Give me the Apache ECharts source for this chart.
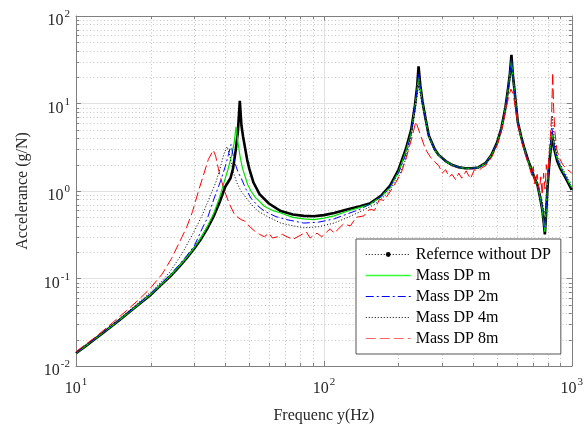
<!DOCTYPE html>
<html><head><meta charset="utf-8">
<script src="https://cdn.jsdelivr.net/npm/echarts@6/dist/echarts.min.js"></script>
<style>html,body{margin:0;padding:0;background:#fff}#c{width:586px;height:429px}</style>
</head><body><div id="c"></div>
<script>
// ---- data ----
const seriesNames = ['Refernce without DP', 'Mass DP m', 'Mass DP 2m', 'Mass DP 4m', 'Mass DP 8m'];

const refFreq = [10,11,12,13,14,15,16,18,20,22,24,26,28,30,32,34,36,38,40,42,43,44,45,45.8,46.5,47.2,48,49,50,52,55,60,67,75,83,91,100,110,125,140,153,170,185,200,214,225,233,238,241,245,250,257,265,280,291,310,330,350,372,395,420,450,474,500,520,540,553,563,571,578,587,596,606,625,644,665,685,705,727,745,762,772,779,788,798,810,823,835,850,875,900,930,965,1000];
const refAcc  = [0.014,0.0171,0.0206,0.0245,0.0289,0.0336,0.039,0.051,0.065,0.084,0.106,0.135,0.172,0.22,0.285,0.38,0.52,0.75,1.12,1.4,1.8,2.8,4.8,10.7,5.6,4.2,3.2,2.3,1.8,1.25,0.92,0.72,0.59,0.54,0.52,0.515,0.53,0.56,0.62,0.67,0.72,0.88,1.15,1.75,3.0,5.0,9.5,16,26.5,16,10.5,6.8,4.3,3.0,2.57,2.2,1.98,1.87,1.82,1.82,1.86,2.1,2.57,3.6,5.2,9,14.6,22,36,22,14.6,9.5,6.1,4.2,3.06,2.3,1.82,1.45,1.18,0.85,0.59,0.42,0.32,0.55,1.08,1.9,3.06,4.3,3.0,2.17,1.8,1.53,1.25,1.03];

const mFreq = [10,12,14,16,18,20,22,24,26,28,30,32,34,36,38,39.6,41,42.5,43.5,44.2,45,46,47,48,49.3,51,53,55,57.5,62,67,75,83,91,100,110,125,140,153,170,185,200,214,225,233,238,241,245,250,257,265,280,291,310,330,350,372,395,420,450,474,500,520,540,553,563,571,578,587,596,606,625,644,665,685,705,727,745,762,772,779,788,798,810,823,835,850,875,900,930,965,1000];
const mAcc  = [0.014,0.0207,0.029,0.0392,0.0515,0.066,0.085,0.108,0.138,0.176,0.226,0.295,0.4,0.56,0.85,1.27,1.75,2.6,3.6,5.4,3.6,2.4,1.8,1.5,1.18,0.98,0.84,0.76,0.67,0.6,0.56,0.5,0.48,0.47,0.49,0.52,0.59,0.65,0.7,0.86,1.1,1.65,2.8,4.6,9,14.5,20,14.5,10,6.6,4.2,2.95,2.55,2.18,1.97,1.86,1.81,1.81,1.85,2.08,2.55,3.5,5.1,8.8,14,21,31,21,14,9.2,6,4.1,3.0,2.25,1.8,1.45,1.18,0.86,0.6,0.43,0.34,0.6,1.2,2.1,3.4,4.7,3.2,2.3,1.9,1.6,1.3,1.1];

const m2Freq = [10,12,14,16,18,20,22,24,26,28,30,32.4,34,36.1,38.2,40,41.2,42.2,43,44,45,46.4,48.5,50.8,54,57.5,64,71,83,95,110,125,140,160,180,200,214,225,233,238,241,245,250,257,265,280,291,310,330,350,372,395,420,450,474,500,520,540,553,563,571,578,587,596,606,625,644,665,685,705,727,745,762,772,779,788,798,810,823,832,850,875,900,930,965,1000];
const m2Acc  = [0.0141,0.0208,0.0292,0.0396,0.052,0.067,0.087,0.111,0.142,0.183,0.236,0.38,0.5,0.83,1.27,1.9,2.6,3.4,2.6,2.0,1.65,1.4,1.05,0.83,0.68,0.59,0.51,0.47,0.43,0.44,0.48,0.55,0.62,0.75,1.0,1.6,2.6,4.5,8.8,15,22,15,10,6.5,4.2,2.95,2.55,2.18,1.97,1.86,1.81,1.81,1.85,2.08,2.55,3.5,5.1,8.8,14,21,33,21,14,9.2,6,4.1,3.0,2.25,1.8,1.45,1.2,0.9,0.65,0.47,0.38,0.62,1.2,2.2,3.6,5.2,3.3,2.3,1.9,1.6,1.3,1.12];

const m4Freq = [10,12,14,16,18,20,22,24,27,30.5,32.5,34.5,36.7,38.5,39.6,40.7,41.8,43,44.5,46.4,50,54.1,60,67,75,83,95,110,125,140,160,180,200,214,225,233,238,241,245,250,257,265,280,291,310,330,350,372,395,420,450,474,500,520,540,553,563,571,578,587,596,606,625,644,665,685,705,727,745,762,772,779,788,798,810,823,835,850,875,900,930,965,1000];
const m4Acc  = [0.0142,0.021,0.0297,0.0405,0.054,0.07,0.091,0.12,0.2,0.38,0.55,0.83,1.27,2.0,2.7,3.2,2.5,1.67,1.25,0.99,0.75,0.59,0.5,0.43,0.4,0.38,0.39,0.43,0.5,0.58,0.7,0.93,1.45,2.3,4.2,8,12.5,16,12.5,9.5,6.3,4.1,2.9,2.5,2.15,1.95,1.84,1.8,1.8,1.83,2.05,2.5,3.4,5.0,8.5,13.5,19,26,19,13,8.8,5.8,4.0,2.95,2.25,1.8,1.45,1.2,0.95,0.75,0.6,0.55,0.75,1.3,2.3,4.2,7.3,3.8,2.5,2.0,1.7,1.4,1.2];

const m8Freq = [10,12,14,16,18,20,22.3,24.3,26.8,27.9,29.5,31.2,32.5,34.2,35.8,36.6,37.5,38.5,39.8,41.5,43.6,45,46.4,47.9,49,50.8,52.5,55,57.5,60,62,65,68,71,75,80,85,88,93.8,98,106,110,120,128,135,145,153,160,167.5,175,190,205,215,225,235,245,257,270,280,291,300,310,320,329,340,350,360,375,390,405,420,435,450,474,500,520,540,555,568,580,590,600,615,630,650,670,690,700,710,725,740,750,760,770,780,790,800,810,820,830,838,845,855,870,890,920,950,1000];
const m8Acc  = [0.0146,0.0215,0.031,0.043,0.058,0.078,0.113,0.17,0.3,0.38,0.58,1.0,1.45,2.3,2.93,2.5,1.82,1.35,0.99,0.72,0.54,0.5,0.47,0.455,0.42,0.38,0.35,0.32,0.3,0.33,0.29,0.3,0.32,0.3,0.28,0.31,0.34,0.29,0.33,0.3,0.37,0.33,0.42,0.4,0.5,0.52,0.62,0.6,0.8,0.78,1.1,1.6,2.4,3.8,6.2,4.4,3.0,2.4,2.15,1.95,1.6,1.75,1.45,1.55,1.35,1.6,1.4,1.7,1.38,1.75,1.7,1.85,1.95,2.4,3.3,4.8,8,11.5,14.6,13,9.5,7,4.8,3.5,2.6,2.0,1.5,1.9,1.2,1.55,1.0,1.45,0.9,1.6,1.05,2.0,1.4,2.6,4.2,8,22.5,9,4.8,3.0,2.4,2.0,1.8,1.6];

const xMinorTicks = [20,30,40,50,60,70,80,90,200,300,400,500,600,700,800,900];
const yMinorTicks = [0.02,0.03,0.04,0.05,0.06,0.07,0.08,0.09,0.2,0.3,0.4,0.5,0.6,0.7,0.8,0.9,2,3,4,5,6,7,8,9,20,30,40,50,60,70,80,90];

// ---- chart ----
const X_MIN = 10, X_MAX = 1000, Y_MIN = 0.01, Y_MAX = 100;
const FONT = '"Liberation Serif","Times New Roman",serif';
const AXIS_COLOR = '#808080';
const TEXT_COLOR = '#262626';
function zip(f, a) { return f.map((v, i) => [v, a[i]]); }
function supLabel(v) { const e = Math.round(Math.log10(v)); return '{b|10}{s|' + e + '}'; }
const rich = {
  b: {fontFamily: FONT, fontSize: 16, color: TEXT_COLOR, lineHeight: 20, verticalAlign: 'bottom'},
  s: {fontFamily: FONT, fontSize: 11, color: TEXT_COLOR, lineHeight: 20, verticalAlign: 'top', padding: [0, 0, 0, 1]}
};

const minorData = xMinorTicks.map(v => [v, 1, 0]).concat(yMinorTicks.map(v => [100, v, 1]));

const chart = echarts.init(document.getElementById('c'), null, {renderer: 'canvas'});

const lineStyles = [
  {color: '#000000', width: 2.6, type: 'solid'},
  {color: '#00e000', width: 1.2, type: 'solid'},
  {color: '#0000ff', width: 1, type: [8, 3, 2, 3]},
  {color: '#000000', width: 1, type: [1, 2]},
  {color: '#ff0000', width: 1, type: [10, 4]}
];
const dataSets = [zip(refFreq, refAcc), zip(mFreq, mAcc), zip(m2Freq, m2Acc), zip(m4Freq, m4Acc), zip(m8Freq, m8Acc)];

const lineSeries = seriesNames.map((n, i) => ({
  name: n, type: 'line', data: dataSets[i], symbol: 'none', showSymbol: false,
  xAxisIndex: 0, yAxisIndex: 0, z: 3 + i, clip: true,
  lineStyle: lineStyles[i], itemStyle: {color: lineStyles[i].color}, emphasis: {disabled: true}
}));

const gridSeries = {
  type: 'custom', xAxisIndex: 0, yAxisIndex: 0, z: 1, silent: true, clip: false,
  data: minorData,
  renderItem: function (params, api) {
    const t = api.value(2);
    let p1, p2, children = [];
    const gridStyle = {stroke: '#c4c4c4', lineWidth: 1, lineDash: [1, 2.5]};
    const tickStyle = {stroke: AXIS_COLOR, lineWidth: 1};
    if (t === 0) {
      const v = api.value(0);
      p1 = api.coord([v, Y_MIN]); p2 = api.coord([v, Y_MAX]);
      const x = Math.round(p1[0]) + 0.5;
      children.push({type: 'line', shape: {x1: x, y1: p1[1], x2: x, y2: p2[1]}, style: gridStyle});
      children.push({type: 'line', shape: {x1: x, y1: p1[1], x2: x, y2: p1[1] - 3}, style: tickStyle});
      children.push({type: 'line', shape: {x1: x, y1: p2[1], x2: x, y2: p2[1] + 3}, style: tickStyle});
    } else {
      const v = api.value(1);
      p1 = api.coord([X_MIN, v]); p2 = api.coord([X_MAX, v]);
      const y = Math.round(p1[1]) + 0.5;
      children.push({type: 'line', shape: {x1: p1[0], y1: y, x2: p2[0], y2: y}, style: gridStyle});
      children.push({type: 'line', shape: {x1: p1[0], y1: y, x2: p1[0] + 3, y2: y}, style: tickStyle});
      children.push({type: 'line', shape: {x1: p2[0], y1: y, x2: p2[0] - 3, y2: y}, style: tickStyle});
    }
    return {type: 'group', children: children};
  }
};

const axisBase = {
  type: 'log', logBase: 10,
  axisLine: {show: true, onZero: false, lineStyle: {color: AXIS_COLOR, width: 1}},
  axisTick: {show: true, inside: true, length: 5, lineStyle: {color: AXIS_COLOR}},
  minorTick: {show: false}
};

const option = {
  animation: false,
  backgroundColor: '#ffffff',
  grid: {left: 76, right: 8, top: 16, bottom: 59, containLabel: false},
  xAxis: [
    Object.assign({}, axisBase, {
      position: 'bottom', min: X_MIN, max: X_MAX,
      axisLabel: {formatter: supLabel, rich: rich, margin: 11},
      splitLine: {show: true, lineStyle: {color: '#e2e2e2', width: 1}},
      name: 'Frequenc y(Hz)', nameLocation: 'middle', nameGap: 42,
      nameTextStyle: {fontFamily: FONT, fontSize: 16, color: TEXT_COLOR}
    }),
    Object.assign({}, axisBase, {
      position: 'top', min: X_MIN, max: X_MAX,
      axisLabel: {show: false}, splitLine: {show: false}
    })
  ],
  yAxis: [
    Object.assign({}, axisBase, {
      position: 'left', min: Y_MIN, max: Y_MAX,
      axisLabel: {formatter: supLabel, rich: rich, margin: 6, padding: [6, 0, 0, 0]},
      splitLine: {show: true, lineStyle: {color: '#e2e2e2', width: 1}},
      name: 'Accelerance (g/N)', nameLocation: 'middle', nameGap: 45, nameRotate: 90,
      nameTextStyle: {fontFamily: FONT, fontSize: 16, color: TEXT_COLOR}
    }),
    Object.assign({}, axisBase, {
      position: 'right', min: Y_MIN, max: Y_MAX,
      axisLabel: {show: false}, splitLine: {show: false}
    })
  ],
  legend: {
    orient: 'vertical', left: 356, top: 239,
    backgroundColor: '#ffffff', borderColor: '#555555', borderWidth: 1, borderRadius: 0,
    padding: [7, 10, 7, 9], itemGap: 4, itemWidth: 45, itemHeight: 6,
    textStyle: {fontFamily: FONT, fontSize: 16, color: '#000000', lineHeight: 17},
    itemStyle: {opacity: 0},
    selectedMode: false,
    data: [
      {name: seriesNames[0], itemStyle: {opacity: 1, color: '#000000'}, lineStyle: {type: [1, 2], width: 1, color: '#000000'}},
      {name: seriesNames[1], lineStyle: {type: 'solid', width: 1.5, color: '#33ff33'}},
      {name: seriesNames[2], lineStyle: {type: [8, 3, 2, 3], width: 1, color: '#0000ff'}},
      {name: seriesNames[3], lineStyle: {type: [1, 2], width: 1, color: '#000000'}},
      {name: seriesNames[4], lineStyle: {type: [10, 4], width: 1.2, color: '#ff6666'}}
    ]
  },
  series: [gridSeries].concat(lineSeries)
};
chart.setOption(option);
</script>
</body></html>
